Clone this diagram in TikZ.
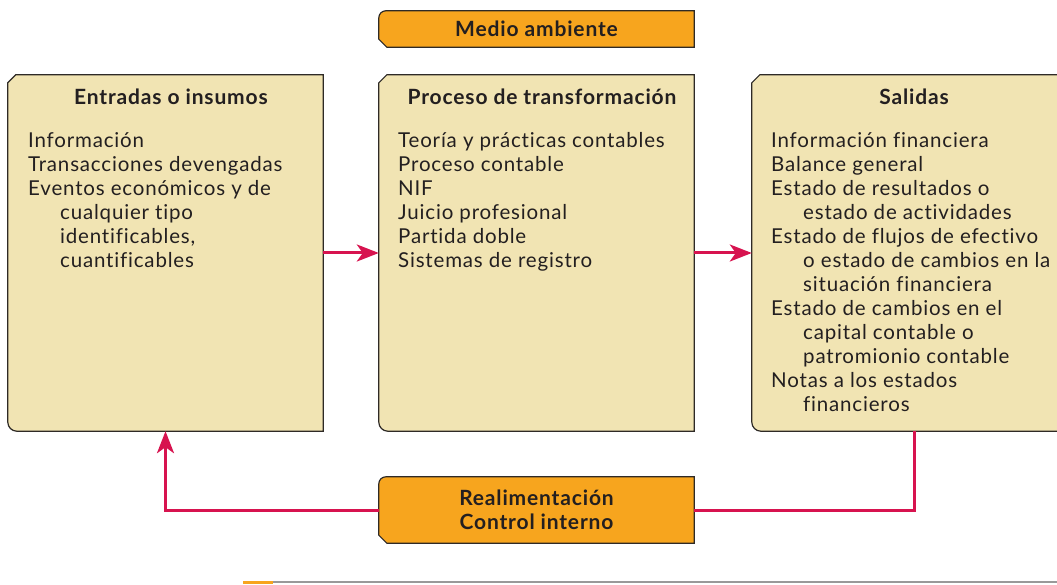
\documentclass[tikz,border=0pt]{standalone}
\usepackage{fontspec}
\setmainfont[LetterSpace=4,Ligatures=NoCommon]{Lato}
\usetikzlibrary{arrows.meta,backgrounds}
\definecolor{tan}{HTML}{F1E4B3}
\definecolor{orng}{HTML}{F7A51E}
\definecolor{redl}{HTML}{D7134F}
\definecolor{edge}{HTML}{2E2A26}
\definecolor{txt}{HTML}{231F20}
\newcommand\chbox[1]{\draw[boxline,fill=tan] ([yshift=-8pt]#1.north west) -- ([xshift=8pt]#1.north west) -- (#1.north east) -- (#1.south east) -- ([xshift=9pt]#1.south west) arc[start angle=270,end angle=180,radius=9pt] -- cycle;}
\newcommand\orbox[1]{\draw[boxline,fill=orng] ([xshift=7pt]#1.north west) -- (#1.north east) -- (#1.south east) -- ([xshift=8pt]#1.south west) -- ([yshift=8pt]#1.south west) -- ([yshift=-7pt]#1.north west) arc[start angle=180,end angle=90,radius=7pt] -- cycle;}
\tikzset{
  boxline/.style={draw=edge,line width=1.2pt},
  panel/.style={draw=none,inner sep=0pt,minimum height=356pt},
  tag/.style={draw=none,inner sep=0pt,minimum width=315pt,text=txt,font=\fontsize{21}{23.5}\selectfont\bfseries,align=center},
  title/.style={inner sep=0pt,anchor=base,text=txt,font=\fontsize{21}{24}\selectfont\bfseries},
  body/.style={inner sep=0pt,anchor=north west,text=txt,align=left,font=\fontsize{20.5}{24}\selectfont},
  conn/.style={draw=redl,line width=3pt},
  tip/.style={-{Stealth[length=22pt,width=17pt,inset=6pt]}}
}
\newcommand\ind{\hspace*{32pt}}
\begin{document}
\begin{tikzpicture}[x=1pt,y=1pt]
\useasboundingbox (0,0) rectangle (1057,-585);
% panels
\node[panel,minimum width=315pt] (in) at (165.5,-253) {};
\node[panel,minimum width=315pt] (proc) at (536.5,-253) {};
\node[panel,minimum width=325pt] (out) at (914.5,-253) {};
\chbox{in}\chbox{proc}\chbox{out}
% orange tags
\node[tag,minimum height=36pt] (env) at (536.5,-29) {Medio ambiente};
\node[tag,minimum height=66pt] (fb) at (536.5,-510) {Realimentación\\Control interno};
\begin{scope}[on background layer]
\orbox{env}\orbox{fb}
\end{scope}
% titles
\node[title] (inT) at (171,-105) {Entradas o insumos};
\node[title] (procT) at (542,-105) {Proceso de transformación};
\node[title] (outT) at (914,-105) {Salidas};
% bodies
\node[body] (inB) at (28,-130) {\rule{0pt}{17pt}Información\\Transacciones devengadas\\Eventos económicos y de\\\ind cualquier tipo\\\ind identificables,\\\ind cuantificables};
\node[body] (procB) at (398,-130) {\rule{0pt}{17pt}Teoría y prácticas contables\\Proceso contable\\NIF\\Juicio profesional\\Partida doble\\Sistemas de registro};
\node[body] (outB) at (771,-130) {\rule{0pt}{17pt}Información financiera\\Balance general\\Estado de resultados o\\\ind estado de actividades\\Estado de flujos de efectivo\\\ind o estado de cambios en la\\\ind situación financiera\\Estado de cambios en el\\\ind capital contable o\\\ind patromionio contable\\Notas a los estados\\\ind financieros};
% connectors
\draw[conn,tip] (in.east) -- (proc.west);
\draw[conn,tip] (proc.east) -- (out.west);
\draw[conn,tip] (fb.west) -| (in.south);
\draw[conn] (fb.east) -| (out.south);
% bottom rule
\coordinate (r0) at (243,-582);
\coordinate (r1) at (273,-582);
\coordinate (r2) at (1057,-582);
\draw[orng,line width=3pt] (r0) -- (r1);
\draw[gray!80,line width=1.3pt] (r1) -- (r2);
\end{tikzpicture}
\end{document}
